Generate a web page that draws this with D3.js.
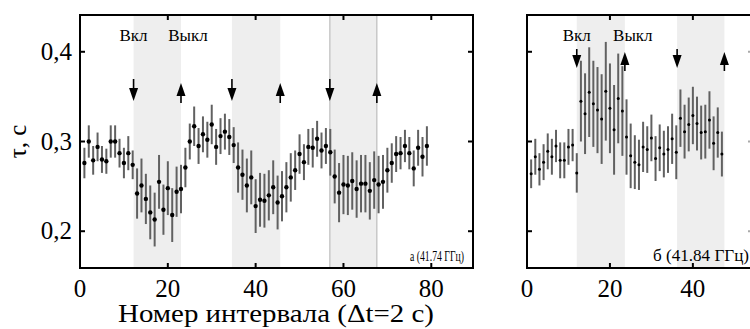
<!DOCTYPE html>
<html>
<head>
<meta charset="utf-8">
<script src="https://cdn.jsdelivr.net/npm/d3@7"></script>
<style>
  body { margin: 0; background: #fff; }
  svg { display: block; font-family: "Liberation Serif", "Times New Roman", serif; }
</style>
</head>
<body>
<svg id="chart" width="750" height="329"></svg>
<script>
// panel а (41.74 GHz), points 1..79
const tauA = [
  0.276, 0.300, 0.279, 0.294, 0.280, 0.278, 0.300, 0.300, 0.287, 0.276,
  0.287, 0.274, 0.242, 0.251, 0.236, 0.221, 0.213, 0.255, 0.224, 0.248,
  0.218, 0.244, 0.247, 0.271, 0.300, 0.317, 0.295, 0.308, 0.302, 0.319,
  0.294, 0.306, 0.311, 0.305, 0.296, 0.271, 0.263, 0.251, 0.260, 0.228,
  0.235, 0.234, 0.240, 0.249, 0.232, 0.239, 0.249, 0.260, 0.268, 0.286,
  0.277, 0.294, 0.293, 0.303, 0.290, 0.295, 0.288, 0.261, 0.243, 0.252,
  0.251, 0.256, 0.247, 0.253, 0.253, 0.245, 0.257, 0.252, 0.255, 0.268,
  0.276, 0.286, 0.287, 0.295, 0.287, 0.270, 0.293, 0.283, 0.295
];
const errA = [
  0.017, 0.018, 0.016, 0.016, 0.015, 0.014, 0.018, 0.018, 0.016, 0.017,
  0.019, 0.016, 0.028, 0.030, 0.028, 0.030, 0.030, 0.030, 0.028, 0.030,
  0.030, 0.028, 0.027, 0.022, 0.020, 0.022, 0.020, 0.020, 0.020, 0.022,
  0.020, 0.020, 0.020, 0.020, 0.020, 0.028, 0.028, 0.030, 0.030, 0.030,
  0.030, 0.030, 0.028, 0.030, 0.030, 0.028, 0.028, 0.027, 0.022, 0.022,
  0.020, 0.020, 0.022, 0.020, 0.020, 0.020, 0.026, 0.030, 0.033, 0.033,
  0.033, 0.032, 0.032, 0.032, 0.032, 0.032, 0.032, 0.032, 0.030, 0.025,
  0.022, 0.020, 0.018, 0.018, 0.018, 0.020, 0.020, 0.022, 0.022
];

// panel б (41.84 GHz), points 1..47
const tauB = [
  0.264, 0.283, 0.269, 0.277, 0.289, 0.283, 0.295, 0.279, 0.279, 0.294,
  0.296, 0.265, 0.345, 0.331, 0.355, 0.342, 0.335, 0.325, 0.356, 0.337,
  0.313, 0.348, 0.334, 0.305, 0.284, 0.277, 0.274, 0.294, 0.291, 0.304,
  0.281, 0.293, 0.286, 0.291, 0.303, 0.288, 0.326, 0.311, 0.319, 0.329,
  0.320, 0.310, 0.311, 0.324, 0.298, 0.310, 0.286
];
const errB = [
  0.016, 0.020, 0.018, 0.020, 0.020, 0.020, 0.018, 0.020, 0.020, 0.020,
  0.018, 0.022, 0.045, 0.045, 0.050, 0.048, 0.048, 0.050, 0.055, 0.050,
  0.050, 0.050, 0.050, 0.042, 0.036, 0.030, 0.028, 0.028, 0.026, 0.026,
  0.025, 0.026, 0.026, 0.026, 0.028, 0.030, 0.032, 0.030, 0.030, 0.032,
  0.030, 0.030, 0.030, 0.032, 0.030, 0.028, 0.025
];

// switching moments (interval numbers)
const onA = [12.2, 34.6, 56.9];
const offA = [23.0, 45.6, 67.6];
const onB = [12.0, 36.2];
const offB = [23.6, 47.6];

const xTicksA = [0, 20, 40, 60, 80];
const xTicksB = [0, 20, 40];
const yTicks = [0.2, 0.3, 0.4];

const svg = d3.select('#chart');
const fmt = d3.formatLocale({ decimal: ',', thousands: ' ', grouping: [3], currency: ['', ''] }).format('.1f');

const y = d3.scaleLinear().domain([0.159, 0.441]).range([268, 15]);

function drawPanel(opt) {
  const x = d3.scaleLinear().domain(opt.domain).range(opt.range);
  const g = svg.append('g');
  const [x0, x1] = opt.range;

  // shaded "on" intervals
  opt.on.forEach((a, i) => {
    const b = opt.off[i];
    g.append('rect')
      .attr('x', x(a)).attr('y', y.range()[1])
      .attr('width', x(b) - x(a)).attr('height', y.range()[0] - y.range()[1])
      .attr('fill', '#eeeeee');
    if (opt.edgeLines && opt.edgeLines[i]) {
      [a, b].forEach(v => g.append('line')
        .attr('x1', x(v)).attr('x2', x(v))
        .attr('y1', y.range()[1]).attr('y2', y.range()[0])
        .attr('stroke', '#bdbdbd').attr('stroke-width', 1.2));
    }
  });

  // arrows
  const arrow = (xv, down) => {
    const cx = x(xv);
    const [s0, s1, h0, h1] = down ? opt.arrowDown : opt.arrowUp;
    g.append('line')
      .attr('x1', cx).attr('x2', cx).attr('y1', s0).attr('y2', s1)
      .attr('stroke', '#000').attr('stroke-width', 1.6);
    const w = 4.5;
    g.append('path')
      .attr('d', down
        ? `M${cx - w},${h0}L${cx + w},${h0}L${cx},${h1}Z`
        : `M${cx - w},${h1}L${cx + w},${h1}L${cx},${h0}Z`)
      .attr('fill', '#000');
  };
  opt.on.forEach(v => arrow(v, true));
  opt.off.forEach(v => arrow(v, false));

  // data with error bars
  const pts = opt.tau.map((t, i) => ({ n: i + 1, t, e: opt.err[i] }));
  g.append('g').selectAll('line').data(pts).join('line')
    .attr('x1', d => x(d.n)).attr('x2', d => x(d.n))
    .attr('y1', d => y(d.t + d.e)).attr('y2', d => y(d.t - d.e))
    .attr('stroke', '#616161').attr('stroke-width', 2);
  g.append('g').selectAll('circle').data(pts).join('circle')
    .attr('cx', d => x(d.n)).attr('cy', d => y(d.t))
    .attr('r', opt.dotR).attr('fill', '#000');

  // ticks (inward)
  const tk = 5;
  opt.xTicks.filter(v => v > 0).forEach(v => {
    g.append('line').attr('x1', x(v)).attr('x2', x(v)).attr('y1', 268).attr('y2', 268 - tk)
      .attr('stroke', '#000').attr('stroke-width', 2);
    g.append('line').attr('x1', x(v)).attr('x2', x(v)).attr('y1', 15).attr('y2', 15 + tk)
      .attr('stroke', '#000').attr('stroke-width', 2);
  });
  yTicks.forEach(v => {
    g.append('line').attr('x1', x0).attr('x2', x0 + tk).attr('y1', y(v)).attr('y2', y(v))
      .attr('stroke', '#000').attr('stroke-width', 2);
    g.append('line').attr('x1', x1).attr('x2', x1 - tk).attr('y1', y(v)).attr('y2', y(v))
      .attr('stroke', opt.rightTickColor).attr('stroke-width', 2);
  });

  // frame
  g.append('rect')
    .attr('x', x0).attr('y', 15).attr('width', x1 - x0).attr('height', 253)
    .attr('fill', 'none').attr('stroke', '#000').attr('stroke-width', 2);

  // x tick labels
  g.append('g').selectAll('text').data(opt.xTicks).join('text')
    .attr('x', d => x(d)).attr('y', 297)
    .attr('text-anchor', 'middle').attr('font-size', 25)
    .text(d => d);

  // Вкл / Выкл labels
  g.append('text').attr('x', x(opt.on[0])).attr('y', opt.labelY)
    .attr('text-anchor', 'middle').attr('font-size', 17).text('Вкл');
  g.append('text').attr('x', x(opt.off[0]) + opt.offShift).attr('y', opt.labelY)
    .attr('text-anchor', 'middle').attr('font-size', 17).text('Выкл');

  // panel caption
  g.append('text').attr('x', opt.capX).attr('y', 261)
    .attr('text-anchor', 'end').attr('font-size', opt.capSize)
    .attr('textLength', opt.capLen).attr('lengthAdjust', 'spacingAndGlyphs')
    .text(opt.caption);
  return x;
}

drawPanel({
  domain: [0, 89.5], range: [80, 473], tau: tauA, err: errA,
  on: onA, off: offA, edgeLines: [false, false, true],
  arrowDown: [79, 90, 88, 101], arrowUp: [92, 103, 83, 96],
  dotR: 2.2, xTicks: xTicksA, rightTickColor: '#000',
  labelY: 41, offShift: 7,
  caption: 'а (41.74 ГГц)', capX: 464, capSize: 14, capLen: 54
});

drawPanel({
  domain: [0, 54.5], range: [527, 753], tau: tauB, err: errB,
  on: onB, off: offB, edgeLines: [false, false],
  arrowDown: [49, 58, 55, 68], arrowUp: [60, 71, 52, 65],
  dotR: 1.5, xTicks: xTicksB, rightTickColor: '#aaa',
  labelY: 41, offShift: 8,
  caption: 'б (41.84 ГГц)', capX: 749, capSize: 16, capLen: 96
});

// y tick labels (left panel only)
svg.append('g').selectAll('text').data(yTicks).join('text')
  .attr('x', 72).attr('y', d => y(d) + 8)
  .attr('text-anchor', 'end').attr('font-size', 25)
  .text(d => fmt(d));

// axis titles
svg.append('text')
  .attr('transform', `translate(26,${y(0.3)}) rotate(-90)`)
  .attr('text-anchor', 'middle').attr('font-size', 25)
  .text('τ, с');

svg.append('text')
  .attr('x', 118).attr('y', 322)
  .attr('font-size', 25)
  .attr('textLength', 316).attr('lengthAdjust', 'spacingAndGlyphs')
  .text('Номер интервала (Δt=2 с)');
</script>
</body>
</html>
